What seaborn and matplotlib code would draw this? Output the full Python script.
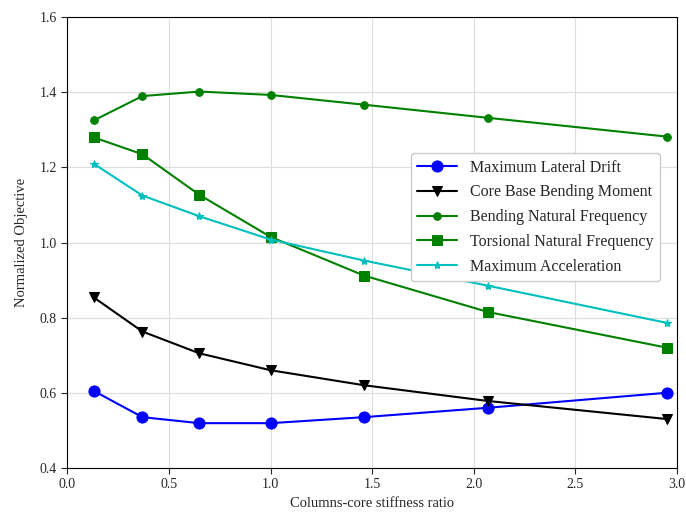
import pandas as pd
import matplotlib
matplotlib.use("Agg")
import matplotlib.pyplot as plt
import seaborn as sns

# stiffness ratio (x) and normalized objectives
ratio = [0.13, 0.37, 0.65, 1.0, 1.46, 2.07, 2.95]
lateral_drift = [0.605, 0.535, 0.519, 0.519, 0.535, 0.560, 0.600]
base_moment = [0.854, 0.763, 0.705, 0.660, 0.620, 0.578, 0.530]
bending_freq = [1.325, 1.390, 1.402, 1.393, 1.367, 1.332, 1.282]
torsional_freq = [1.280, 1.235, 1.127, 1.015, 0.912, 0.815, 0.720]
max_accel = [1.210, 1.125, 1.070, 1.008, 0.952, 0.885, 0.786]

series = {
    'Maximum Lateral Drift': lateral_drift,
    'Core Base Bending Moment': base_moment,
    'Bending Natural Frequency': bending_freq,
    'Torsional Natural Frequency': torsional_freq,
    'Maximum Acceleration': max_accel,
}

# Armar un DataFrame largo
df = pd.DataFrame([
    {'ratio': x, 'value': v, 'Objective': name}
    for name, vals in series.items() for x, v in zip(ratio, vals)
])

sns.set_style("whitegrid")
plt.rcParams['font.family'] = ['Liberation Serif', 'DejaVu Serif']

colors = ['blue', 'black', 'green', 'green', 'c']
markers = ['o', 'v', 'o', 's', '*']
msizes = [8, 7, 5.5, 7, 6]

fig = plt.figure(figsize=(6.86, 5.21), dpi=100)
ax = fig.add_axes([0.098, 0.102, 0.889, 0.865])

for (name, _), c, m, ms in zip(series.items(), colors, markers, msizes):
    sns.lineplot(data=df[df['Objective'] == name], x='ratio', y='value',
                 color=c, marker=m, markersize=ms, markeredgecolor=c,
                 linewidth=1.5, label=name, ax=ax)

ax.set_xlim(0, 3.0)
ax.set_ylim(0.4, 1.6)
ax.set_xticks([0.0, 0.5, 1.0, 1.5, 2.0, 2.5, 3.0])
ax.set_yticks([0.4, 0.6, 0.8, 1.0, 1.2, 1.4, 1.6])
ax.set_xlabel('Columns-core stiffness ratio', fontsize=10.5)
ax.set_ylabel('Normalized Objective', fontsize=10.5, labelpad=8)
ax.tick_params(labelsize=10, length=4, left=True, bottom=True)
ax.grid(True, color='#dddddd', linewidth=0.8)
for s in ax.spines.values():
    s.set_color('black')
    s.set_linewidth(0.8)

ax.legend(loc='upper right', bbox_to_anchor=(0.985, 0.716), fontsize=11.5,
          labelspacing=0.55, handlelength=2.5, frameon=True, framealpha=1,
          edgecolor='#cccccc')

fig.savefig('out.png', dpi=100)
